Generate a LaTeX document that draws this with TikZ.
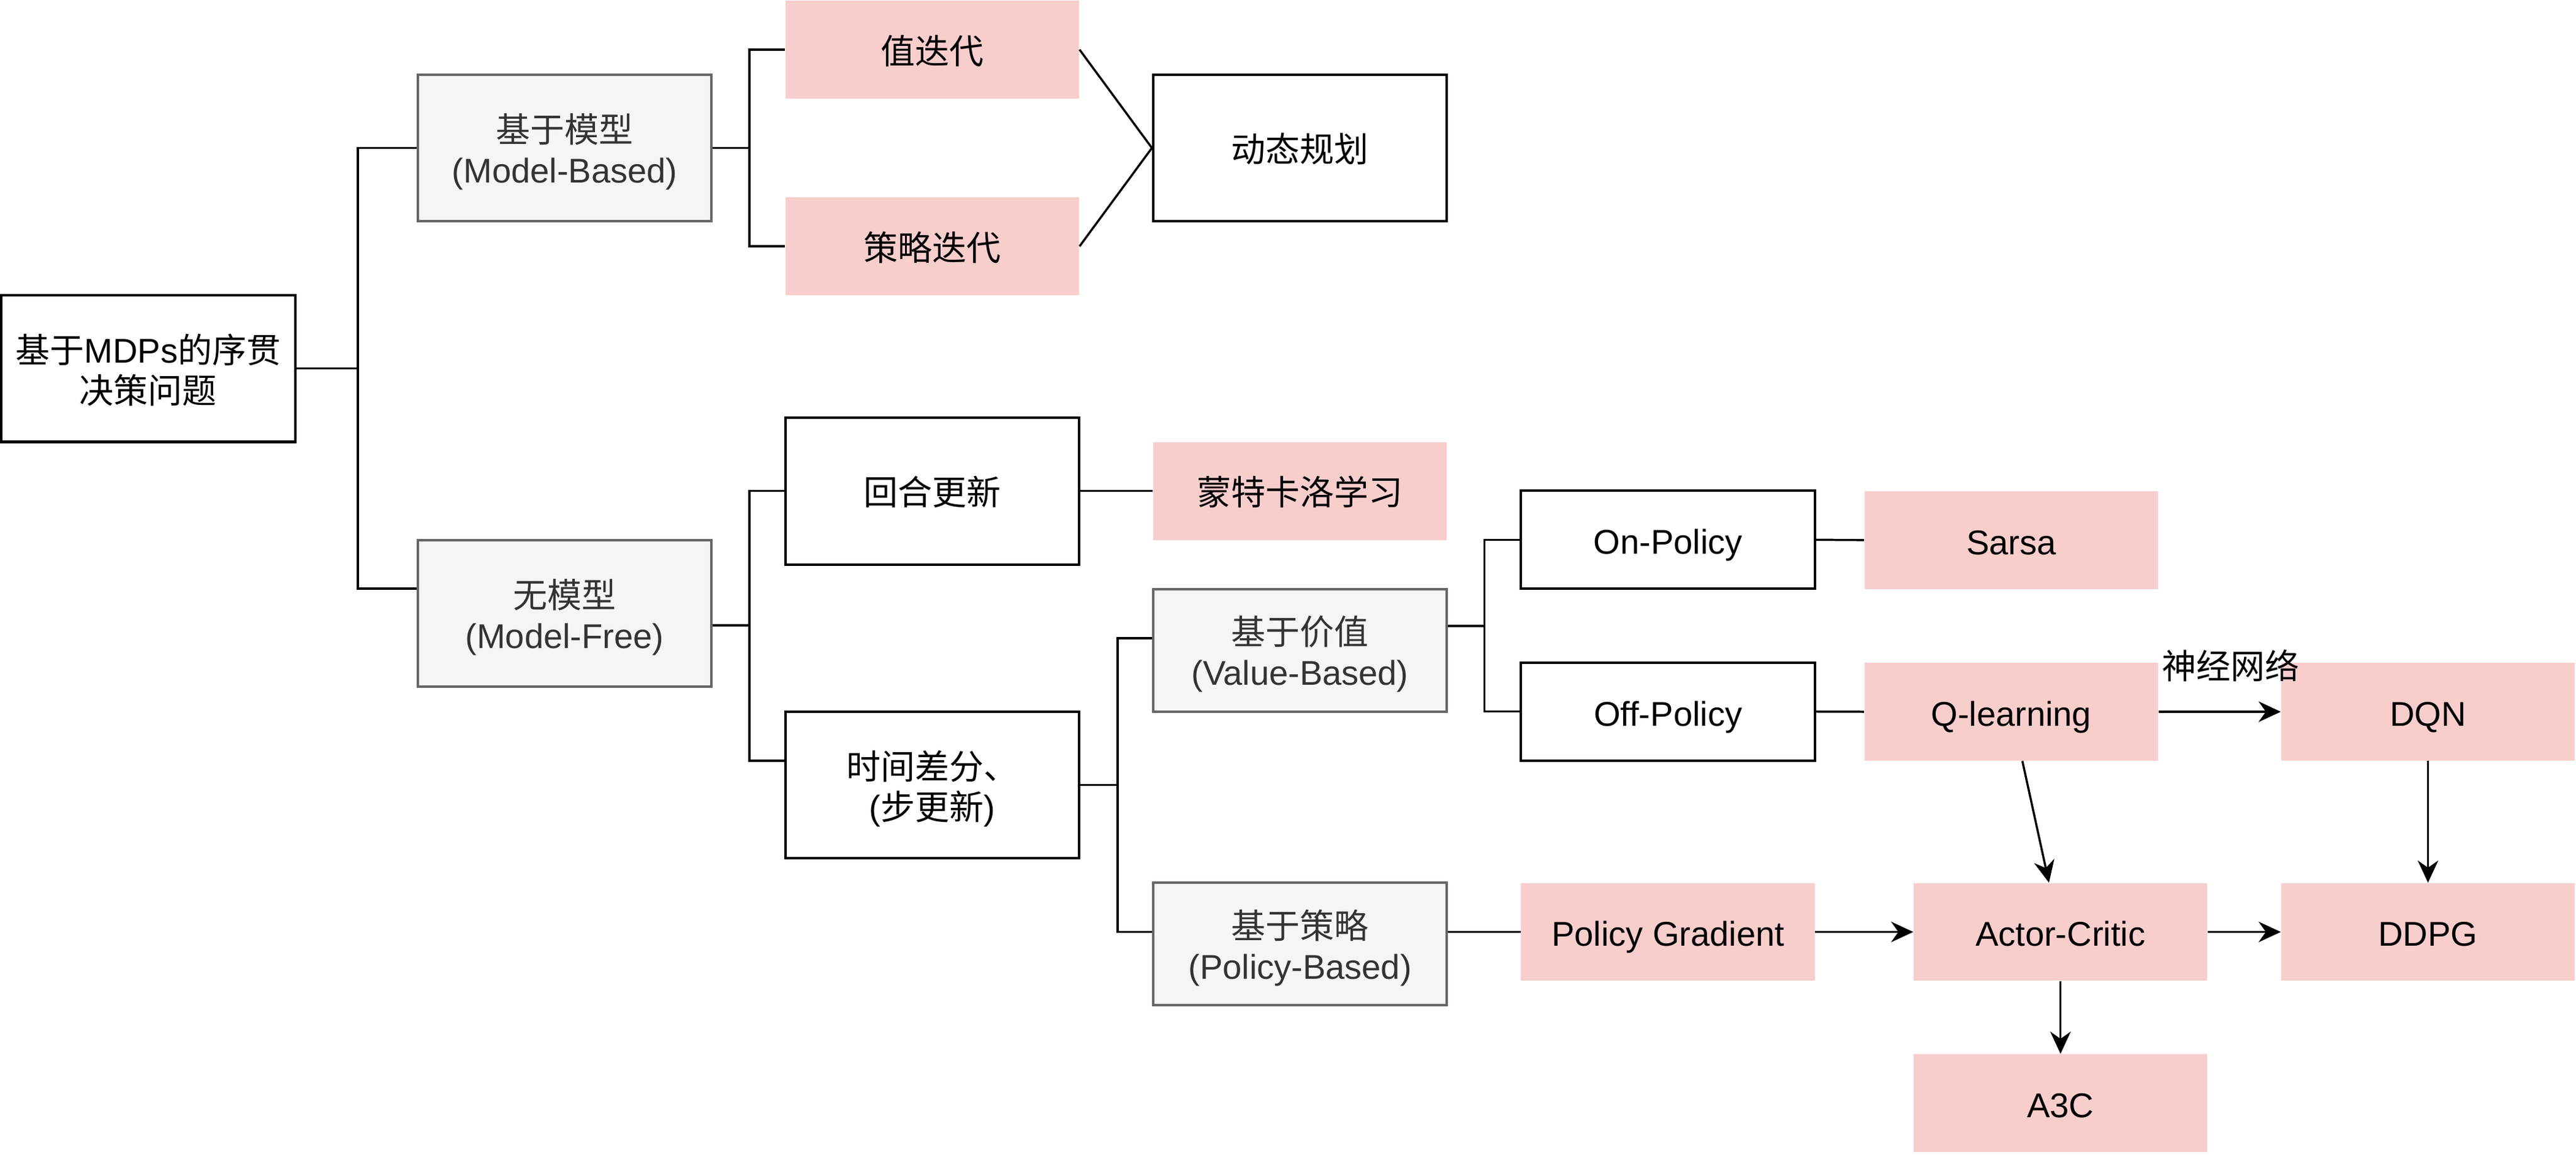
\documentclass[tikz,border=0pt]{standalone}
\usepackage{fontspec}
\setmainfont{Liberation Sans}
\newfontfamily\cjk{Noto Sans CJK SC}
\usetikzlibrary{arrows.meta,calc}
\definecolor{pinkf}{HTML}{F8CECC}
\definecolor{grayf}{HTML}{F5F5F5}
\definecolor{grayd}{HTML}{666666}
\definecolor{grayt}{HTML}{333333}
\begin{document}
\begin{tikzpicture}[x=1pt,y=-1pt,
  every node/.style={font=\fontsize{20.9}{24.5}\selectfont, align=center, inner sep=0pt},
  oneline/.style={text height=19pt, text depth=1.6pt},
  twoline/.style={text height=44pt, text depth=1.6pt},
  boxbase/.style={minimum width=178.8pt},
  bbox/.style={boxbase, draw=black, line width=1.5pt, fill=white},
  pbox/.style={boxbase, fill=pinkf},
  gbox/.style={boxbase, draw=grayd, fill=grayf, text=grayt, line width=1.5pt},
  tall/.style={minimum height=89.4pt},
  short/.style={minimum height=59.6pt},
  midh/.style={minimum height=74.6pt},
  conn/.style={line width=1.3pt},
  arr/.style={line width=1.3pt, -{Stealth[length=13.5pt,width=12.5pt]}}]
\useasboundingbox (0,0) rectangle (1568,704.2);
% nodes
\node[bbox,tall,twoline] (root) at (90.2,224.4) {{\cjk 基于}MDPs{\cjk 的序贯}\\{\cjk 决策问题}};
\node[gbox,tall,twoline] (mb) at (343.7,90.1) {{\cjk 基于模型}\\(Model-Based)};
\node[gbox,tall,twoline] (mf) at (343.7,373.5) {{\cjk 无模型}\\(Model-Free)};
\node[pbox,short,oneline] (vi) at (567.5,30.2) {\cjk 值迭代};
\node[pbox,short,oneline] (pi) at (567.5,150) {\cjk 策略迭代};
\node[bbox,tall,oneline] (dp) at (791.3,90.1) {\cjk 动态规划};
\node[bbox,tall,oneline] (ep) at (567.5,299) {\cjk 回合更新};
\node[bbox,tall,twoline] (td) at (567.5,478) {{\cjk 时间差分、}\\({\cjk 步更新})};
\node[pbox,short,oneline] (mc) at (791.3,299) {\cjk 蒙特卡洛学习};
\node[gbox,midh,twoline] (vb) at (791.3,396) {{\cjk 基于价值}\\(Value-Based)};
\node[gbox,midh,twoline] (pb) at (791.3,574.9) {{\cjk 基于策略}\\(Policy-Based)};
\node[bbox,short,oneline] (on) at (1015.3,328.7) {On-Policy};
\node[bbox,short,oneline] (off) at (1015.3,433.3) {Off-Policy};
\node[pbox,short,oneline] (sarsa) at (1224.2,328.9) {Sarsa};
\node[pbox,short,oneline] (ql) at (1224.2,433.4) {Q-learning};
\node[pbox,short,oneline] (dqn) at (1477.9,433.4) {DQN};
\node[pbox,short,oneline] (pg) at (1015.3,567.5) {Policy Gradient};
\node[pbox,short,oneline] (ac) at (1254.2,567.5) {Actor-Critic};
\node[pbox,short,oneline] (ddpg) at (1477.9,567.5) {DDPG};
\node[pbox,short,oneline] (a3c) at (1254.2,671.7) {A3C};
% tree connectors
\draw[conn] (root.east) -- ++(37.5,0) |- (mb.west);
\draw[conn] (root.east) -- ++(37.5,0) |- ($(mf.west)+(0,-15)$);
\draw[conn] (mb.east) -- ++(22.3,0) |- (vi.west);
\draw[conn] (mb.east) -- ++(22.3,0) |- (pi.west);
\draw[conn] (vi.east) -- (dp.west);
\draw[conn] (pi.east) -- (dp.west);
\draw[conn] ($(mf.east)+(0,7.3)$) -- ++(22.3,0) |- (ep.west);
\draw[conn] ($(mf.east)+(0,7.3)$) -- ++(22.3,0) |- ($(td.west)+(0,-14.7)$);
\draw[conn] (ep.east) -- (mc.west);
\draw[conn] (td.east) -- ++(22.6,0) |- ($(vb.west)+(0,-7.3)$);
\draw[conn] (td.east) -- ++(22.6,0) |- ($(pb.west)+(0,-7.4)$);
\draw[conn] ($(vb.east)+(0,-14.8)$) -- ++(22,0) |- (on.west);
\draw[conn] ($(vb.east)+(0,-14.8)$) -- ++(22,0) |- (off.west);
\draw[conn] (on.east) -- (sarsa.west);
\draw[conn] (off.east) -- (ql.west);
\draw[conn] ($(pb.east)+(0,-7.4)$) -- (pg.west);
% arrows
\draw[arr] (ql.east) -- node[pos=0.59, yshift=28.8pt, oneline] (nn) {\cjk 神经网络} (dqn.west);
\draw[arr] ($(ql.south)+(6.8,0)$) -- ($(ac.north)+(-7,0)$);
\draw[arr] (pg.east) -- (ac.west);
\draw[arr] (ac.east) -- (ddpg.west);
\draw[arr] (dqn.south) -- (ddpg.north);
\draw[arr] (ac.south) -- (a3c.north);
\end{tikzpicture}
\end{document}
